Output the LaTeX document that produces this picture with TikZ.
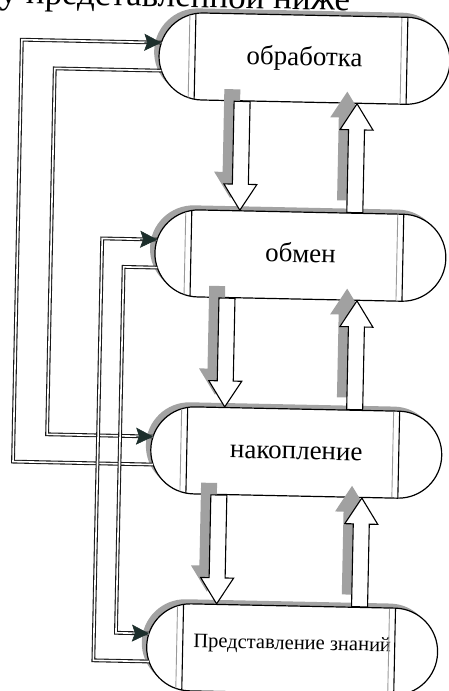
\documentclass[tikz,border=0pt]{standalone}
\usepackage{fontspec}
\setmainfont{Liberation Serif}
\usetikzlibrary{shapes.misc,shadows,calc,arrows.meta}
\definecolor{tipcol}{RGB}{28,46,43}
\newcommand\blkdn[6]{\path[#6] ($(#1.south)+({#3-8-#4},{-#5})$) -- ($(#2.north)+({#3-8-#4},{-26-#5})$) -- ($(#2.north)+({#3-16.5-#4},{-26-#5})$) -- ($(#2.north)+({#3-#4},{-#5})$) -- ($(#2.north)+({#3+16.5-#4},{-26-#5})$) -- ($(#2.north)+({#3+8-#4},{-26-#5})$) -- ($(#1.south)+({#3+8-#4},{-#5})$) -- cycle;}
\newcommand\blkup[6]{\path[#6] ($(#1.north)+({#3-8-#4},{-#5})$) -- ($(#2.south)+({#3-8-#4},{26-#5})$) -- ($(#2.south)+({#3-16.5-#4},{26-#5})$) -- ($(#2.south)+({#3-#4},{-#5})$) -- ($(#2.south)+({#3+16.5-#4},{26-#5})$) -- ($(#2.south)+({#3+8-#4},{26-#5})$) -- ($(#1.north)+({#3+8-#4},{-#5})$) -- cycle;}
\newcommand\innerlines[1]{%
  \draw[innergry] ($(#1.center)+(-115.5,-41.3)$) -- ($(#1.center)+(-115.5,41.3)$);
  \draw[innerblk] ($(#1.center)+(-109.5,-42.8)$) -- ($(#1.center)+(-109.5,42.8)$);
  \draw[innergry] ($(#1.center)+(96.5,-42.5)$) -- ($(#1.center)+(96.5,42.5)$);
  \draw[innerblk] ($(#1.center)+(102.5,-43.5)$) -- ($(#1.center)+(102.5,43.5)$);}
\begin{document}
\begin{tikzpicture}[x=1pt,y=-1pt,
  capsule/.style={rounded rectangle, draw=black, line width=1.2pt, fill=white,
    minimum width=291pt, minimum height=87pt, inner sep=0pt,
    drop shadow={shadow xshift=-5pt, shadow yshift=4.5pt, fill=black!36, opacity=1},
    font=\fontsize{27}{30}\selectfont, text height=19.5pt, text depth=6pt},
  smallcap/.style={font=\fontsize{20.5}{24}\selectfont, text height=14pt, text depth=14pt},
  innerblk/.style={line width=1.1pt, draw=black},
  innergry/.style={line width=0.9pt, draw=black!40},
  conn/.style={draw=black!90, line width=1.1pt, double=white, double distance=1.6pt, line join=miter},
  headtip/.style={-{Stealth[length=17pt,width=17pt,inset=3pt]}, draw=tipcol, fill=tipcol, line width=0.6pt},
  arrbody/.style={draw=black, line width=1.1pt, fill=white, line join=miter},
  arrshadow/.style={fill=black!37},
]
\useasboundingbox (0,0) rectangle (449,691);
\clip (0,0) rectangle (449,691);
\begin{scope}[transform canvas={rotate around={-1.2:(224,345)}}]
  \node[anchor=base east, font=\fontsize{35}{40}\selectfont, inner sep=0pt] (head) at (343,8) {у представленной ниже};

  \node[capsule] (b1) at (298.5,57) {обработка};
  \node[capsule] (b2) at (298.5,254) {обмен};
  \node[capsule] (b3) at (298.5,451) {накопление};
  \node[capsule, smallcap] (b4) at (298.5,648) {Представление знаний};
  \innerlines{b1}
  \innerlines{b2}
  \innerlines{b3}
  \innerlines{b4}

  % block arrows between boxes
  \blkdn{b1}{b2}{-61.5}{10}{12}{arrshadow}
  \blkdn{b1}{b2}{-61.5}{0}{0}{arrbody}
  \blkdn{b2}{b3}{-72.5}{10}{12}{arrshadow}
  \blkdn{b2}{b3}{-72.5}{0}{0}{arrbody}
  \blkdn{b3}{b4}{-76.5}{10}{12}{arrshadow}
  \blkdn{b3}{b4}{-76.5}{0}{0}{arrbody}
  \blkup{b2}{b1}{53.5}{10}{12}{arrshadow}
  \blkup{b2}{b1}{53.5}{0}{0}{arrbody}
  \blkup{b3}{b2}{57.5}{10}{12}{arrshadow}
  \blkup{b3}{b2}{57.5}{0}{0}{arrbody}
  \blkup{b4}{b3}{66.5}{10}{12}{arrshadow}
  \blkup{b4}{b3}{66.5}{0}{0}{arrbody}

  % connector end points on the left arcs
  \coordinate (b1i) at ($(b1.center)+(-143.5,-13)$);
  \coordinate (b1o) at ($(b1.center)+(-142.8,15)$);
  \coordinate (b2i) at ($(b2.center)+(-143.5,-13)$);
  \coordinate (b2o) at ($(b2.center)+(-142.8,15)$);
  \coordinate (b3i) at ($(b3.center)+(-143.5,-13)$);
  \coordinate (b3o) at ($(b3.center)+(-142.8,15)$);
  \coordinate (b4i) at ($(b4.center)+(-143.5,-13)$);
  \coordinate (b4o) at ($(b4.center)+(-142.8,15)$);

  \draw[conn] (b3o) -| (15.5,0 |- b1i) -- (b1i);
  \draw[conn] (b1o) -| (49,0 |- b3i) -- (b3i);
  \draw[conn] (b4o) -| (100,0 |- b2i) -- (b2i);
  \draw[conn] (b2o) -| (122,0 |- b4i) -- (b4i);
  \draw[headtip] ($(b1i)+(-17,0)$) -- (b1i);
  \draw[headtip] ($(b3i)+(-17,0)$) -- (b3i);
  \draw[headtip] ($(b2i)+(-17,0)$) -- (b2i);
  \draw[headtip] ($(b4i)+(-17,0)$) -- (b4i);
\end{scope}
\end{tikzpicture}
\end{document}
